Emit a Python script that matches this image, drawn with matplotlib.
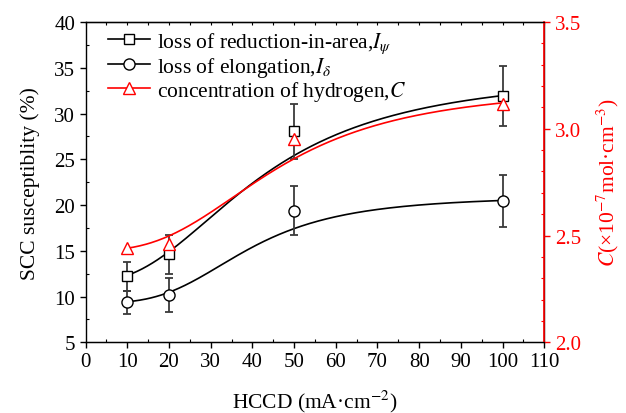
import numpy as np
import matplotlib
matplotlib.use("Agg")
import matplotlib.pyplot as plt
from matplotlib.lines import Line2D
from matplotlib.ticker import MultipleLocator

plt.rcParams['font.family'] = ['Liberation Serif', 'DejaVu Serif']
plt.rcParams['mathtext.fontset'] = 'stix'

# HCCD (mA/cm2)
hccd = [10, 20, 50, 100]

# loss of reduction-in-area, I_psi (%)
i_psi = [12.2, 14.6, 28.05, 31.9]
i_psi_err = [1.6, 2.1, 3.0, 3.3]

# loss of elongation, I_delta (%)
i_delta = [9.35, 10.15, 19.4, 20.4]
i_delta_err = [1.3, 1.85, 2.65, 2.85]

# hydrogen concentration C (1e-7 mol/cm3)
conc_h = [2.44, 2.46, 2.953, 3.117]

# logistic fit parameters (A1, A2, x0, p)
fit_psi = (11.6, 34.5, 42.0, 2.4)
fit_delta = (9.3, 21.0, 39.0, 3.3)
fit_h = (2.43, 3.2, 46.0, 2.8)


def logistic(x, a1, a2, x0, p):
    return a2 + (a1 - a2) / (1 + (x / x0) ** p)


fig = plt.figure(figsize=(6.26, 4.14), dpi=100)
ax = fig.add_axes([0.1367, 0.1708, 0.8695 - 0.1367, 0.9444 - 0.1708])
ax2 = ax.twinx()

xs = np.linspace(hccd[0], hccd[-1], 300)
ecol = '#3a3a3a'

# fitted curves
ax.plot(xs, logistic(xs, *fit_psi), color='black', lw=1.2, zorder=2)
ax.plot(xs, logistic(xs, *fit_delta), color='black', lw=1.2, zorder=2)
ax2.plot(xs, logistic(xs, *fit_h), color='red', lw=1.2, zorder=2)

# data points with error bars
ax.errorbar(hccd, i_psi, yerr=i_psi_err, fmt='none', ecolor=ecol, elinewidth=1.3,
            capsize=3, capthick=1.3, zorder=3)
ax.errorbar(hccd, i_delta, yerr=i_delta_err, fmt='none', ecolor=ecol, elinewidth=1.3,
            capsize=3, capthick=1.3, zorder=3)
ax.plot(hccd, i_psi, 's', ms=7, mfc='white', mec='black', mew=1.0, zorder=4)
ax.plot(hccd, i_delta, 'o', ms=8, mfc='white', mec='black', mew=1.0, zorder=4)
ax2.plot(hccd, conc_h, '^', ms=9, mfc='white', mec='red', mew=1.0, zorder=4)

# axes limits and ticks
ax.set_xlim(0, 110)
ax.set_ylim(5, 40)
ax2.set_ylim(2.0, 3.5)
ax.xaxis.set_major_locator(MultipleLocator(10))
ax.xaxis.set_minor_locator(MultipleLocator(5))
ax.yaxis.set_major_locator(MultipleLocator(5))
ax.yaxis.set_minor_locator(MultipleLocator(2.5))
ax2.yaxis.set_major_locator(MultipleLocator(0.5))
ax2.yaxis.set_minor_locator(MultipleLocator(0.1))

ax.tick_params(which='major', direction='out', length=4, width=1, labelsize=15)
ax.tick_params(which='minor', direction='in', length=2.5, width=0.8)
ax.tick_params(axis='x', pad=3)
ax2.tick_params(which='major', direction='out', length=4, width=1, labelsize=15,
                colors='red')
ax2.tick_params(which='minor', direction='in', length=2.5, width=0.8, colors='red')

top = ax.secondary_xaxis('top')
top.xaxis.set_major_locator(MultipleLocator(5))
top.tick_params(direction='in', length=2.5, width=0.8, labeltop=False)

for sp in ax.spines.values():
    sp.set_linewidth(1.0)
ax2.spines['right'].set_color('red')
ax2.spines['right'].set_linewidth(1.2)
ax2.spines['left'].set_visible(False)

ax.set_xlabel('HCCD (mA·cm$^{-2}$)', fontsize=15.5, labelpad=12)
ax.set_ylabel('SCC susceptiblity (%)', fontsize=15.5, labelpad=10)
ax2.set_ylabel('$C$(×10$^{-7}$mol·cm$^{-3}$)', fontsize=15.5, color='red', labelpad=10)

handles = [
    Line2D([], [], color='black', lw=1.2, marker='s', ms=7, mfc='white', mec='black'),
    Line2D([], [], color='black', lw=1.2, marker='o', ms=8, mfc='white', mec='black'),
    Line2D([], [], color='red', lw=1.2, marker='^', ms=9, mfc='white', mec='red'),
]
labels = ['loss of reduction-in-area,$I_{\\psi}$',
          'loss of elongation,$I_{\\delta}$',
          'concentration of hydrogen,$C$']
ax.legend(handles, labels, loc='upper left', frameon=False, fontsize=15.5,
          handlelength=1.95, handletextpad=0.35, labelspacing=0.0,
          borderaxespad=0.2, bbox_to_anchor=(0.02, 1.015))

fig.savefig('out.png', dpi=100)
